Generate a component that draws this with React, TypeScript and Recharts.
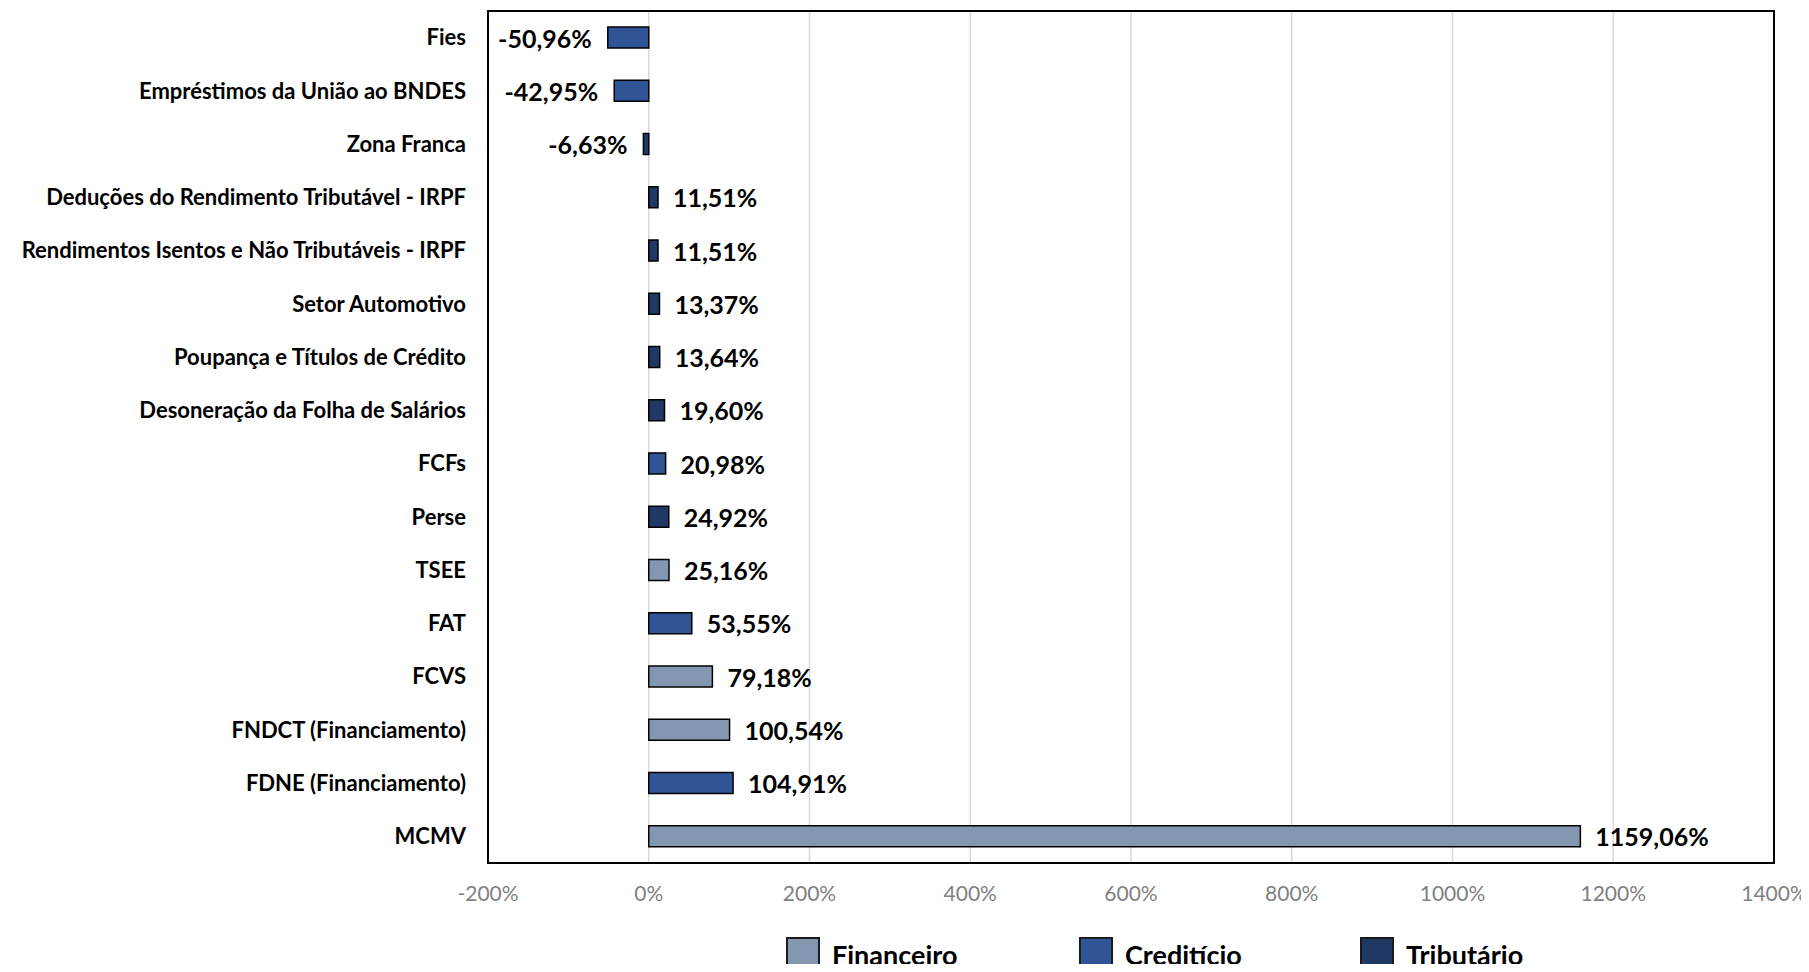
import { BarChart, Bar, XAxis, YAxis, CartesianGrid, Legend, LabelList, ReferenceArea } from "recharts"

const categories = [
  "Fies",
  "Empréstimos da União ao BNDES",
  "Zona Franca",
  "Deduções do Rendimento Tributável - IRPF",
  "Rendimentos Isentos e Não Tributáveis - IRPF",
  "Setor Automotivo",
  "Poupança e Títulos de Crédito",
  "Desoneração da Folha de Salários",
  "FCFs",
  "Perse",
  "TSEE",
  "FAT",
  "FCVS",
  "FNDCT (Financiamento)",
  "FDNE (Financiamento)",
  "MCMV",
]

const values = [
  -50.96, -42.95, -6.63, 11.51, 11.51, 13.37, 13.64, 19.6, 20.98, 24.92, 25.16, 53.55, 79.18, 100.54,
  104.91, 1159.06,
]

// F = Financeiro, C = Creditício, T = Tributário
const types = ["C", "C", "T", "T", "T", "T", "T", "T", "C", "T", "F", "C", "F", "F", "C", "F"]

const xTicks = [-200, 0, 200, 400, 600, 800, 1000, 1200, 1400]

const series = [
  { key: "financeiro", type: "F", name: "Financeiro", color: "#8497b0" },
  { key: "crediticio", type: "C", name: "Creditício", color: "#2f5597" },
  { key: "tributario", type: "T", name: "Tributário", color: "#203864" },
]

const data = categories.map((name, i) => {
  const row: Record<string, any> = { name }
  series.forEach((s) => {
    row[s.key] = types[i] === s.type ? values[i] : null
  })
  return row
})

const font = "Lato, 'Open Sans', sans-serif"

function fmt(v: number) {
  return v.toFixed(2).replace(".", ",") + "%"
}

function ValueLabel(props: any) {
  const { x, y, width, height, value } = props
  if (value === null || value === undefined || value === 0) return null
  const end = x + width
  const neg = value < 0
  return (
    <text
      x={neg ? end - 16 : end + 15}
      y={y + height / 2}
      textAnchor={neg ? "end" : "start"}
      dominantBaseline="central"
      fontFamily={font}
      fontWeight={700}
      fontSize={25}
      fill="#000"
    >
      {fmt(value)}
    </text>
  )
}

function LegendContent() {
  return (
    <div style={{ position: "relative", height: 50, width: 1809, fontFamily: font }}>
      {series.map((s, i) => (
        <div
          key={s.key}
          style={{
            position: "absolute",
            left: [786, 1079, 1360][i],
            top: 15,
            display: "flex",
            alignItems: "flex-start",
          }}
        >
          <div
            style={{
              width: 34,
              height: 38,
              background: s.color,
              border: "2px solid #1a1a1a",
              boxSizing: "border-box",
            }}
          />
          <span style={{ marginLeft: 12, fontSize: 27, fontWeight: 700, color: "#000", lineHeight: "36px" }}>
            {s.name}
          </span>
        </div>
      ))}
    </div>
  )
}

export default function App() {
  return (
    <div style={{ margin: -8, width: 1809, height: 972, overflow: "hidden", background: "#fff" }}>
      <BarChart
        width={1809}
        height={972}
        data={data}
        layout="vertical"
        margin={{ top: 11, right: 35, left: 0, bottom: 0 }}
        barSize={21}
      >
        <CartesianGrid horizontal={false} stroke="#d9d9d9" strokeWidth={1.5} />
        <XAxis
          type="number"
          domain={[-200, 1400]}
          ticks={xTicks}
          tickFormatter={(v) => `${v}%`}
          axisLine={false}
          tickLine={false}
          tickMargin={17}
          height={59}
          tick={{ fill: "#7f7f7f", fontSize: 21, fontFamily: font }}
        />
        <YAxis
          type="category"
          dataKey="name"
          width={488}
          axisLine={false}
          tickLine={false}
          tickMargin={16}
          interval={0}
          tick={{ fill: "#000", fontSize: 22, fontWeight: 700, fontFamily: font }}
        />
        <ReferenceArea x1={-200} x2={1400} fill="none" stroke="#000" strokeWidth={2} ifOverflow="visible" />
        {series.map((s) => (
          <Bar
            key={s.key}
            dataKey={s.key}
            name={s.name}
            stackId="a"
            fill={s.color}
            stroke="#000"
            strokeWidth={1.5}
            isAnimationActive={false}
          >
            <LabelList dataKey={s.key} content={ValueLabel} />
          </Bar>
        ))}
        <Legend verticalAlign="bottom" height={50} content={LegendContent} />
      </BarChart>
    </div>
  )
}
